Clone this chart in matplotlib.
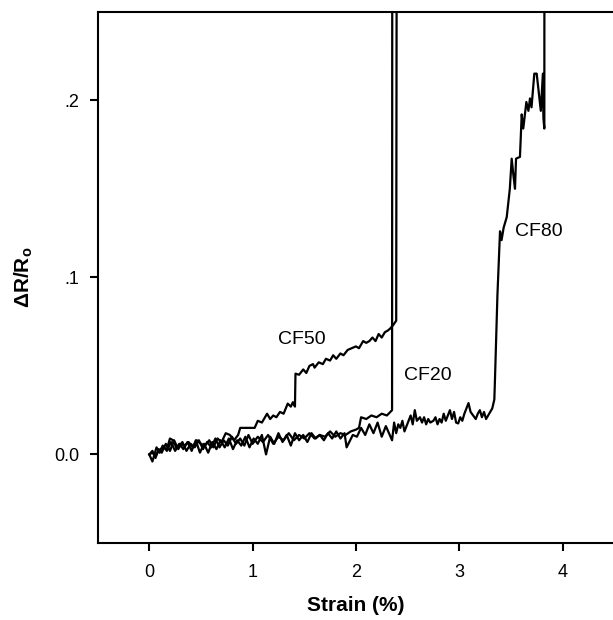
import matplotlib
matplotlib.use("Agg")
import matplotlib.pyplot as plt

plt.rcParams['font.family'] = ['Liberation Sans', 'DejaVu Sans']
plt.rcParams['mathtext.fontset'] = 'custom'
plt.rcParams['mathtext.rm'] = 'Liberation Sans'
plt.rcParams['mathtext.bf'] = 'Liberation Sans:bold'

# strain (%) vs dR/Ro
cf20_x = [0.0, 0.03, 0.06, 0.09, 0.12, 0.16, 0.2, 0.24, 0.28, 0.32, 0.36, 0.4,
          0.44, 0.48, 0.52, 0.56, 0.6, 0.64, 0.68, 0.72, 0.76, 0.8, 0.84, 0.88,
          0.92, 0.96, 1.0, 1.05, 1.1, 1.15, 1.2, 1.25, 1.3, 1.35, 1.4, 1.45,
          1.5, 1.55, 1.6, 1.65, 1.7, 1.75, 1.8, 1.85, 1.9, 1.95, 2.0, 2.03,
          2.05, 2.1, 2.15, 2.2, 2.25, 2.3, 2.35, 2.352]
cf20_y = [0.0, 0.002, -0.002, 0.003, 0.001, 0.006, 0.002, 0.008, 0.003, 0.007,
          0.002, 0.006, 0.004, 0.008, 0.003, 0.007, 0.004, 0.009, 0.004, 0.008,
          0.005, 0.010, 0.006, 0.009, 0.005, 0.011, 0.006, 0.010, 0.007, 0.011,
          0.006, 0.010, 0.008, 0.012, 0.008, 0.011, 0.009, 0.012, 0.009, 0.011,
          0.010, 0.013, 0.010, 0.012, 0.011, 0.013, 0.014, 0.015, 0.021, 0.020,
          0.022, 0.021, 0.023, 0.022, 0.025, 0.30]

cf50_x = [0.0, 0.03, 0.06, 0.09, 0.13, 0.17, 0.2, 0.23, 0.26, 0.3, 0.34, 0.38,
          0.42, 0.46, 0.5, 0.54, 0.58, 0.62, 0.66, 0.7, 0.74, 0.78, 0.82, 0.86,
          0.88, 1.02, 1.05, 1.09, 1.14, 1.17, 1.2, 1.23, 1.265, 1.3, 1.34, 1.37,
          1.39, 1.41, 1.415, 1.45, 1.49, 1.52, 1.55, 1.585, 1.6, 1.64, 1.68,
          1.71, 1.75, 1.78, 1.81, 1.85, 1.88, 1.92, 1.96, 2.0, 2.03, 2.07, 2.1,
          2.13, 2.16, 2.19, 2.22, 2.25, 2.28, 2.31, 2.33, 2.36, 2.39, 2.395]
cf50_y = [0.0, 0.001, -0.001, 0.002, 0.004, 0.003, 0.009, 0.008, 0.004, 0.006,
          0.005, 0.007, 0.004, 0.008, 0.006, 0.005, 0.008, 0.004, 0.009, 0.007,
          0.012, 0.011, 0.008, 0.011, 0.015, 0.015, 0.019, 0.018, 0.023, 0.020,
          0.022, 0.021, 0.024, 0.023, 0.0287, 0.027, 0.0295, 0.027, 0.0456,
          0.045, 0.048, 0.046, 0.050, 0.051, 0.049, 0.052, 0.051, 0.054, 0.053,
          0.056, 0.054, 0.057, 0.056, 0.059, 0.060, 0.061, 0.060, 0.064, 0.063,
          0.064, 0.066, 0.064, 0.068, 0.066, 0.069, 0.070, 0.071, 0.073, 0.0755,
          0.30]

cf80_x = [0.0, 0.03, 0.07, 0.1, 0.13, 0.17, 0.21, 0.25, 0.29, 0.33, 0.37, 0.41,
          0.45, 0.49, 0.53, 0.57, 0.61, 0.65, 0.69, 0.73, 0.77, 0.81, 0.85, 0.89,
          0.93, 0.97, 1.01, 1.05, 1.09, 1.13, 1.17, 1.21, 1.25, 1.29, 1.33, 1.37,
          1.41, 1.45, 1.49, 1.53, 1.57, 1.61, 1.65, 1.69, 1.73, 1.77, 1.81, 1.85,
          1.89, 1.91, 1.97, 2.01, 2.05, 2.09, 2.13, 2.17, 2.21, 2.25, 2.29,
          2.35, 2.37, 2.39, 2.41, 2.43, 2.45, 2.47, 2.49, 2.51, 2.53, 2.55, 2.57,
          2.59, 2.62, 2.64, 2.66, 2.68, 2.70, 2.72, 2.75, 2.77, 2.79, 2.81, 2.83,
          2.85, 2.87, 2.89, 2.91, 2.93, 2.95, 2.97, 2.99, 3.01, 3.03, 3.05, 3.07,
          3.09, 3.11, 3.135, 3.16, 3.18, 3.2, 3.22, 3.24, 3.26, 3.28, 3.30, 3.32,
          3.34, 3.346, 3.37, 3.395, 3.41, 3.43, 3.46, 3.49, 3.508, 3.524, 3.54,
          3.55, 3.588, 3.605, 3.62, 3.65, 3.67, 3.685, 3.70, 3.727, 3.75, 3.79,
          3.81, 3.815, 3.824, 3.825]
cf80_y = [0.0, -0.004, 0.004, 0.001, 0.005, 0.002, 0.007, 0.002, 0.006, 0.003,
          0.007, 0.002, 0.008, 0.001, 0.006, 0.001, 0.007, 0.003, 0.008, 0.004,
          0.009, 0.003, 0.008, 0.005, 0.010, 0.004, 0.009, 0.006, 0.011, 0.000,
          0.010, 0.006, 0.012, 0.007, 0.011, 0.005, 0.012, 0.008, 0.011, 0.007,
          0.012, 0.009, 0.011, 0.008, 0.012, 0.009, 0.013, 0.009, 0.012, 0.004,
          0.011, 0.010, 0.015, 0.011, 0.017, 0.012, 0.018, 0.010, 0.016,
          0.008, 0.018, 0.012, 0.017, 0.015, 0.019, 0.013, 0.016, 0.019, 0.022,
          0.017, 0.025, 0.019, 0.021, 0.018, 0.021, 0.017, 0.020, 0.018, 0.019,
          0.021, 0.017, 0.020, 0.018, 0.023, 0.019, 0.022, 0.025, 0.020, 0.024,
          0.018, 0.0175, 0.021, 0.019, 0.023, 0.026, 0.029, 0.024, 0.022, 0.020,
          0.023, 0.025, 0.021, 0.024, 0.020, 0.022, 0.024, 0.026, 0.031,
          0.042, 0.09, 0.126, 0.121, 0.128, 0.134, 0.15, 0.167, 0.158, 0.150,
          0.167, 0.168, 0.192, 0.184, 0.199, 0.194, 0.201, 0.196, 0.215, 0.215,
          0.194, 0.215, 0.19, 0.184, 0.30]

labels = ['CF20', 'CF50', 'CF80']
label_pos = [(2.70, 0.0445), (1.48, 0.065), (3.775, 0.126)]

fig = plt.figure(figsize=(6.13, 6.2), dpi=100)
ax = fig.add_axes([0.1593, 0.1242, 0.8426, 0.857])

for xs, ys in [(cf20_x, cf20_y), (cf50_x, cf50_y), (cf80_x, cf80_y)]:
    ax.plot(xs, ys, color='black', lw=1.6)

for name, (lx, ly) in zip(labels, label_pos):
    ax.text(lx, ly, name, fontsize=14, ha='center', va='center')

ax.set_xlim(-0.5, 4.5)
ax.set_ylim(-0.05, 0.25)
ax.set_xticks([0, 1, 2, 3, 4])
ax.set_yticks([0.0, 0.1, 0.2])
ax.set_yticklabels(['0.0', '.1', '.2'])
ax.tick_params(direction='out', length=6, width=1.5, labelsize=13)
ax.tick_params(axis='x', pad=9)
ax.tick_params(axis='y', pad=7)
ax.spines['right'].set_visible(False)
for s in ['left', 'bottom', 'top']:
    ax.spines[s].set_linewidth(1.5)

ax.set_xlabel('Strain (%)', fontsize=15, fontweight='bold', labelpad=11)
ax.set_ylabel(r'$\mathbf{ΔR/R_o}$', fontsize=15, labelpad=14)

plt.savefig('out.png', dpi=100)
